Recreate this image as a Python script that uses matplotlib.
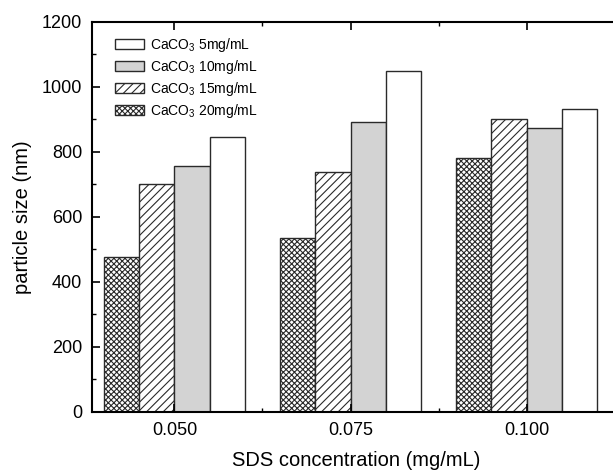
import matplotlib
matplotlib.use("Agg")
import matplotlib.pyplot as plt
import numpy as np
from matplotlib.ticker import MultipleLocator

plt.rcParams['font.family'] = ['Liberation Sans', 'DejaVu Sans']
plt.rcParams['hatch.linewidth'] = 0.8

# SDS concentration (mg/mL) and particle size (nm) for each CaCO3 loading
sds = np.array([0.050, 0.075, 0.100])
size_20 = [478, 535, 782]
size_15 = [701, 738, 903]
size_10 = [756, 893, 874]
size_5 = [846, 1050, 932]

labels = ['CaCO$_{\\mathregular{3}}$ 5mg/mL', 'CaCO$_{\\mathregular{3}}$ 10mg/mL',
          'CaCO$_{\\mathregular{3}}$ 15mg/mL', 'CaCO$_{\\mathregular{3}}$ 20mg/mL']

w = 0.005
fig = plt.figure(figsize=(6.13, 4.73), dpi=100)
ax = fig.add_axes([0.150, 0.129, 0.862, 0.8245])

b20 = ax.bar(sds - 1.5 * w, size_20, w, facecolor='white', edgecolor='#2a2a2a',
             hatch='xxxxxx', linewidth=1.0)
b15 = ax.bar(sds - 0.5 * w, size_15, w, facecolor='white', edgecolor='#2a2a2a',
             hatch='////', linewidth=1.0)
b10 = ax.bar(sds + 0.5 * w, size_10, w, facecolor='#d3d3d3', edgecolor='#2a2a2a',
             linewidth=1.0)
b5 = ax.bar(sds + 1.5 * w, size_5, w, facecolor='white', edgecolor='#2a2a2a',
            linewidth=1.0)

ax.set_xlim(0.0383, 0.1133)
ax.set_ylim(0, 1200)
ax.set_xticks(sds)
ax.set_xticklabels(['0.050', '0.075', '0.100'])
ax.xaxis.set_minor_locator(MultipleLocator(0.0125))
ax.yaxis.set_major_locator(MultipleLocator(200))
ax.yaxis.set_minor_locator(MultipleLocator(100))
ax.tick_params(which='both', direction='in', top=True, right=False, labelsize=13)
ax.tick_params(which='major', length=6, width=1.2)
ax.tick_params(which='minor', length=3, width=1.0)
ax.tick_params(axis='x', which='both', pad=7)
ax.tick_params(axis='y', which='both', pad=7)

for side in ['left', 'bottom', 'top']:
    ax.spines[side].set_linewidth(1.5)
ax.spines['right'].set_visible(False)

ax.set_xlabel('SDS concentration (mg/mL)', fontsize=14.5, labelpad=9)
ax.set_ylabel('particle size (nm)', fontsize=14.5, labelpad=7)

ax.legend([b5, b10, b15, b20], labels, loc='upper left', frameon=False,
          bbox_to_anchor=(0.025, 0.99), borderaxespad=0.3,
          fontsize=10, handlelength=2.1, handleheight=0.75, labelspacing=0.3,
          handletextpad=0.4)

fig.savefig('out.png', dpi=100)
